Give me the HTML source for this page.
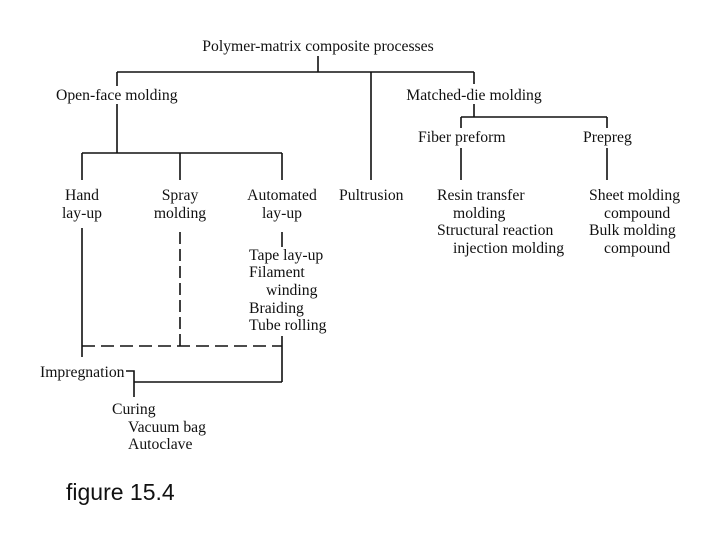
<!DOCTYPE html>
<html><head><style>
body{margin:0;background:#fff;}
svg{display:block}
text{font-family:"Liberation Serif",serif;font-size:15.7px;fill:#111}
</style></head><body>
<svg width="720" height="540" xmlns="http://www.w3.org/2000/svg">
<g stroke="#111" stroke-width="1.6" fill="none">
<path d="M318 56V72M117 72H474M117 72V86M371 72V180M474 72V84"/>
<path d="M474 104V117M461 117H607M461 117V128M607 117V128M461 148V180M607 148V180"/>
<path d="M117 104V153M82 153H282M82 153V180M180 153V180M282 153V180"/>
<path d="M82 228V346M82 346V357"/>
<path d="M180 232V346" stroke-dasharray="12,5"/>
<path d="M282 232V247"/>
<path d="M82 346H282" stroke-dasharray="13,6"/>
<path d="M282 336V382M134 382H282M126 371H134V397"/>
</g>
<text x="318" y="51" text-anchor="middle">Polymer-matrix composite processes</text>
<text x="56" y="100">Open-face molding</text>
<text x="474" y="100" text-anchor="middle">Matched-die molding</text>
<text x="418" y="142">Fiber preform</text>
<text x="583" y="142">Prepreg</text>
<text x="82" y="200" text-anchor="middle">Hand</text>
<text x="82" y="218" text-anchor="middle">lay-up</text>
<text x="180" y="200" text-anchor="middle">Spray</text>
<text x="180" y="218" text-anchor="middle">molding</text>
<text x="282" y="200" text-anchor="middle">Automated</text>
<text x="282" y="218" text-anchor="middle">lay-up</text>
<text x="339" y="200">Pultrusion</text>
<text x="437" y="200">Resin transfer</text>
<text x="453" y="218">molding</text>
<text x="437" y="235">Structural reaction</text>
<text x="453" y="253">injection molding</text>
<text x="589" y="200">Sheet molding</text>
<text x="604" y="218">compound</text>
<text x="589" y="235">Bulk molding</text>
<text x="604" y="253">compound</text>
<text x="249" y="260">Tape lay-up</text>
<text x="249" y="277">Filament</text>
<text x="266" y="295">winding</text>
<text x="249" y="313">Braiding</text>
<text x="249" y="330">Tube rolling</text>
<text x="40" y="377">Impregnation</text>
<text x="112" y="414">Curing</text>
<text x="128" y="432">Vacuum bag</text>
<text x="128" y="449">Autoclave</text>
<text x="66" y="500" style="font-family:'Liberation Sans',sans-serif;font-size:23px">figure 15.4</text>
</svg>
</body></html>
